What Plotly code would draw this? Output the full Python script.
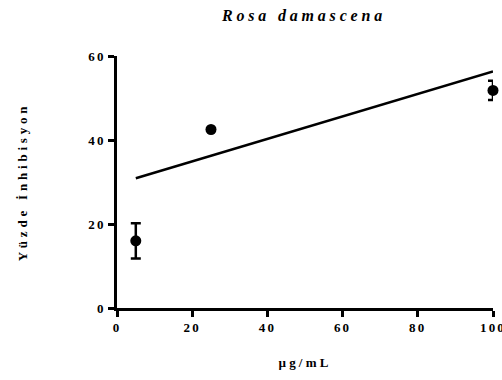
import plotly.graph_objects as go

# Data
conc = [5, 25, 100]                 # µg/mL
inhibition = [16.0, 42.5, 51.8]     # % inhibition
inhibition_err = [4.2, 0.0, 2.3]    # SD (point 2 error hidden behind symbol)
fit_x = [5, 100]
fit_y = [30.9, 56.3]

x_ticks = [0, 20, 40, 60, 80, 100]
y_ticks = [0, 20, 40, 60]

FONT = "Liberation Serif, Times New Roman, serif"


def spaced(s, px):
    return f'<span style="letter-spacing:{px}px">{s}</span>'


fig = go.Figure()
fig.add_trace(go.Scatter(
    x=fit_x, y=fit_y, mode="lines",
    line=dict(color="black", width=2.5),
    showlegend=False, hoverinfo="skip", cliponaxis=False,
))
fig.add_trace(go.Scatter(
    x=conc, y=inhibition, mode="markers",
    marker=dict(color="black", size=11),
    error_y=dict(type="data", array=inhibition_err, visible=True,
                 color="black", thickness=2.5, width=5),
    showlegend=False, cliponaxis=False,
))

fig.update_layout(
    width=502, height=380,
    margin=dict(l=117, r=9, t=56, b=72),
    paper_bgcolor="white", plot_bgcolor="white",
    font=dict(family=FONT, color="black"),
    title=dict(
        text=spaced("<b><i>Rosa damascena</i></b>", 3.8),
        x=304 / 502, xanchor="center", xref="container",
        y=1 - 15 / 380, yanchor="middle", yref="container",
        font=dict(family=FONT, size=16, color="black"),
    ),
    xaxis=dict(
        range=[0, 100], tickvals=x_ticks,
        ticktext=[spaced(f"<b>{v}</b>", 2.2) for v in x_ticks],
        showline=True, linecolor="black", linewidth=2.5,
        ticks="outside", ticklen=6, tickwidth=2.5, tickcolor="black",
        showgrid=False, zeroline=False, automargin=False,
        ticklabeloverflow="allow",
        tickfont=dict(family=FONT, size=13, color="black"),
        title=dict(text=spaced("<b>µg/mL</b>", 3.2), standoff=24,
                   font=dict(family=FONT, size=13, color="black")),
    ),
    yaxis=dict(
        range=[0, 60], tickvals=y_ticks,
        ticktext=[spaced(f"<b>{v}</b>", 2.2) for v in y_ticks],
        showline=True, linecolor="black", linewidth=2.5,
        ticks="outside", ticklen=6, tickwidth=2.5, tickcolor="black",
        showgrid=False, zeroline=False, automargin=False,
        ticklabeloverflow="allow",
        tickfont=dict(family=FONT, size=13, color="black"),
        title=dict(text=spaced("<b>Yüzde İnhibisyon</b>", 3.8), standoff=58,
                   font=dict(family=FONT, size=13, color="black")),
    ),
)

fig.write_html("out.html")
